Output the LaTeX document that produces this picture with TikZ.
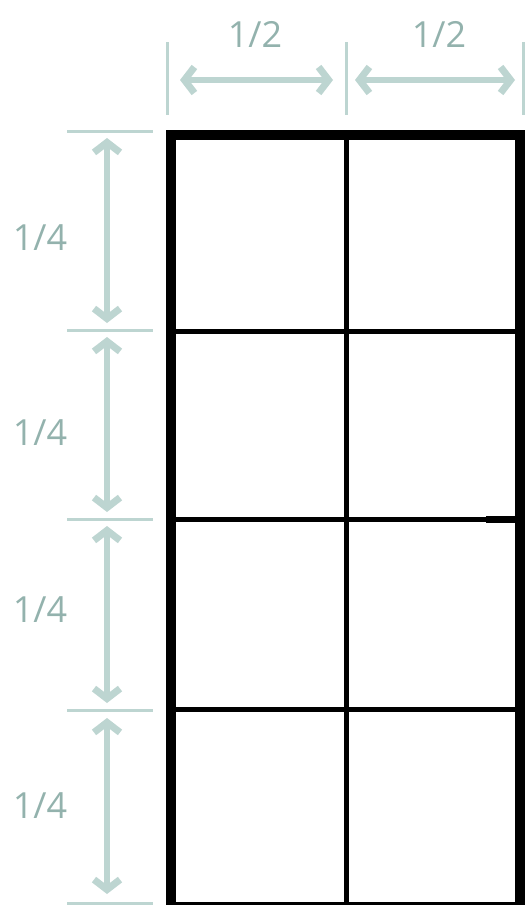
\documentclass[tikz,border=0pt]{standalone}
\usepackage{fontspec}
\setmainfont{Open Sans}
\usetikzlibrary{arrows.meta}
\definecolor{dimline}{HTML}{BDD5D1}
\definecolor{dimtext}{HTML}{93B2AD}
\tikzset{
  dimtick/.style={draw=dimline, line width=3pt},
  dimarrow/.style={draw=dimline, line width=6pt,
    {Straight Barb[length=10pt,width=26pt,line width=7pt]}-{Straight Barb[length=10pt,width=26pt,line width=7pt]}},
  dimlabel/.style={text=dimtext, font=\fontsize{36}{38}\selectfont, inner sep=0pt},
  outer/.style={draw=black, line width=10pt},
  inner/.style={draw=black, line width=5pt},
}
\begin{document}
\begin{tikzpicture}[x=1pt,y=-1pt]
\useasboundingbox (0,0) rectangle (528,905);
% grid
\coordinate (TL) at (171,135);
\coordinate (BR) at (520,907);
\coordinate (mt) at (346,135);
\coordinate (mb) at (346,907);
\coordinate (h1l) at (171,331);
\coordinate (h1r) at (520,331);
\coordinate (h2l) at (171,519);
\coordinate (h2r) at (520,519);
\coordinate (h3l) at (171,709);
\coordinate (h3r) at (520,709);
\coordinate (stubl) at (486,519);
\draw[inner] (mt) -- (mb);
\draw[inner] (h1l) -- (h1r);
\draw[inner] (h2l) -- (h2r);
\draw[inner] (h3l) -- (h3r);
\draw[draw=black, line width=7pt] (stubl) -- (h2r);
\draw[outer] (TL) rectangle (BR);
% top dimension
\coordinate (tA1) at (167,42); \coordinate (tA2) at (167,115);
\coordinate (tB1) at (346,42); \coordinate (tB2) at (346,115);
\coordinate (tC1) at (523,42); \coordinate (tC2) at (523,115);
\draw[dimtick] (tA1) -- (tA2);
\draw[dimtick] (tB1) -- (tB2);
\draw[dimtick] (tC1) -- (tC2);
\coordinate (a1s) at (180,80); \coordinate (a1e) at (333,80);
\coordinate (a2s) at (355,80); \coordinate (a2e) at (515,80);
\draw[dimarrow] (a1s) -- (a1e);
\draw[dimarrow] (a2s) -- (a2e);
\node[dimlabel] (lh1) at (255,34) {1/2};
\node[dimlabel] (lh2) at (439,34) {1/2};
% left dimension
\coordinate (l0a) at (67,131); \coordinate (l0b) at (153,131);
\coordinate (l1a) at (67,330); \coordinate (l1b) at (153,330);
\coordinate (l2a) at (67,519); \coordinate (l2b) at (153,519);
\coordinate (l3a) at (67,710); \coordinate (l3b) at (153,710);
\coordinate (l4a) at (67,903); \coordinate (l4b) at (153,903);
\draw[dimtick] (l0a) -- (l0b);
\draw[dimtick] (l1a) -- (l1b);
\draw[dimtick] (l2a) -- (l2b);
\draw[dimtick] (l3a) -- (l3b);
\draw[dimtick] (l4a) -- (l4b);
\coordinate (v1s) at (107,138); \coordinate (v1e) at (107,323);
\coordinate (v2s) at (107,337); \coordinate (v2e) at (107,512);
\coordinate (v3s) at (107,526); \coordinate (v3e) at (107,703);
\coordinate (v4s) at (107,718); \coordinate (v4e) at (107,894);
\draw[dimarrow] (v1s) -- (v1e);
\draw[dimarrow] (v2s) -- (v2e);
\draw[dimarrow] (v3s) -- (v3e);
\draw[dimarrow] (v4s) -- (v4e);
\node[dimlabel] (lv1) at (40,238) {1/4};
\node[dimlabel] (lv2) at (40,433) {1/4};
\node[dimlabel] (lv3) at (40,610) {1/4};
\node[dimlabel] (lv4) at (40,806) {1/4};
\end{tikzpicture}
\end{document}
